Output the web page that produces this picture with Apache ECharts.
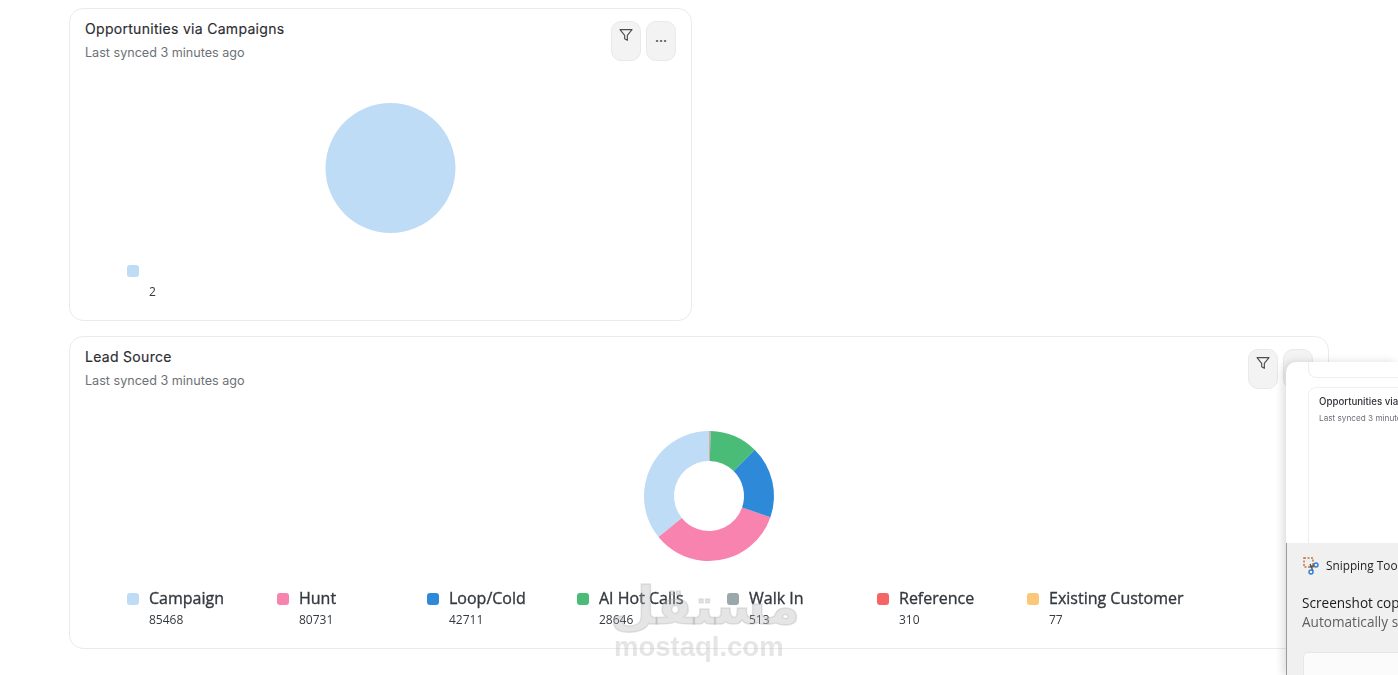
<!DOCTYPE html>
<html><head><meta charset="utf-8">
<script src="https://cdn.jsdelivr.net/npm/echarts@6/dist/echarts.min.js"></script>
<style>
html,body{margin:0;padding:0;background:#fff;width:1398px;height:675px;overflow:hidden;font-family:Inter,sans-serif}
.abs{position:absolute;white-space:nowrap}
.card{position:absolute;box-sizing:border-box;border:1px solid #ebebeb;border-radius:14px;background:#fff}
.title{font:400 14px/18px Inter,sans-serif;color:#2a2d32;letter-spacing:.3px;-webkit-text-stroke:.15px #2a2d32}
.sub{font:400 12.6px/16px Inter,sans-serif;color:#6d7278}
.btn{position:absolute;box-sizing:border-box;width:30px;height:40px;background:#f3f3f3;border:1px solid #e9e9e9;border-radius:10px;display:flex;justify-content:center}
#chart{position:absolute;left:0;top:0;width:1398px;height:675px}
.swatch{position:absolute;width:12px;height:12px;border-radius:3px}
.ln{font:400 16px/20px "Open Sans",sans-serif;color:#343a40;-webkit-text-stroke:.35px #343a40}
.lv{font:400 12px/16px "Open Sans",sans-serif;color:#343a40}
#toast{position:absolute;left:1286px;top:362px;width:112px;height:313px;overflow:hidden;background:#fff;border-radius:10px 0 0 0;box-shadow:-3px 0 8px rgba(0,0,0,.14)}
#toastGray{position:absolute;left:0;top:181px;width:112px;height:132px;background:#f0f0f0;border-left:1px solid #9a9a9a;box-sizing:border-box}
</style></head><body>
<div class="card" style="left:69px;top:8px;width:623px;height:313px"></div>
<div class="card" style="left:69px;top:336px;width:1260px;height:313px"></div>
<div class="abs title" style="left:85px;top:20px">Opportunities via Campaigns</div>
<div class="abs sub" style="left:85px;top:45px">Last synced 3 minutes ago</div>
<div class="abs title" style="left:85px;top:348px">Lead Source</div>
<div class="abs sub" style="left:85px;top:373px">Last synced 3 minutes ago</div>
<div id="btns"></div>
<div id="chart"></div>
<div id="legends"></div>
<div class="abs" style="left:610px;top:566px;width:174px;text-align:center;font:700 52px/80px 'DejaVu Sans',sans-serif;color:rgba(170,170,170,.3);-webkit-text-stroke:1.5px rgba(170,170,170,.3)">مستقل</div>
<div class="abs" style="left:614px;top:631px;font:700 27.5px/32px 'Liberation Sans',sans-serif;color:rgba(170,170,170,.3)">mostaql.com</div>
<div id="toast">
  <div style="position:absolute;left:22px;top:-1px;width:90px;height:16px;border-left:1px solid #eee;border-bottom:1px solid #eee;border-radius:0 0 0 8px"></div>
  <div style="position:absolute;left:22px;top:25px;width:100px;height:170px;border:1px solid #eee;border-radius:8px"></div>
  <div class="abs" style="left:33px;top:34px;font:500 9.7px/12px Inter,sans-serif;color:#2f3237">Opportunities via Campaigns</div>
  <div class="abs" style="left:33px;top:51px;font:400 8.2px/10px Inter,sans-serif;color:#6d7278">Last synced 3 minutes ago</div>
  <div id="toastGray">
    <svg style="position:absolute;left:16px;top:14px" width="17" height="18" viewBox="0 0 17 18"><rect x="1" y="1" width="9" height="9" fill="none" stroke="#c8703a" stroke-width="1.5" stroke-dasharray="2 1.5"/><path d="M7 7l3 7" stroke="#555" stroke-width="1.4"/><circle cx="13" cy="8" r="2" fill="none" stroke="#2d7fd3" stroke-width="1.4"/><circle cx="8" cy="15" r="2" fill="none" stroke="#2d7fd3" stroke-width="1.4"/><path d="M11 8.5l-4 1.5" stroke="#555" stroke-width="1.4"/></svg>
    <div class="abs" style="left:39px;top:14px;font:400 11.8px/16px 'Open Sans',sans-serif;color:#222">Snipping Tool</div>
    <div class="abs" style="left:15px;top:50px;font:400 13.6px/19px 'Open Sans',sans-serif;color:#1b1b1b">Screenshot copied to clipboard</div>
    <div class="abs" style="left:15px;top:69px;font:400 13.6px/19px 'Open Sans',sans-serif;color:#5f5f5f">Automatically saved to screenshots folder</div>
    <div style="position:absolute;left:16px;top:109px;width:120px;height:40px;background:#fbfbfb;border:1px solid #e6e6e6;border-radius:5px"></div>
  </div>
</div>
<script>
var campaignNames = [''];
var campaignValues = [2];
var campaignColors = ['#bfdcf7'];
var leadNames = ['Campaign','Hunt','Loop/Cold','AI Hot Calls','Walk In','Reference','Existing Customer'];
var leadValues = [85468,80731,42711,28646,513,310,77];
var leadColors = ['#bfdcf7','#f883ae','#2f89d9','#4abc77','#9ba8ab','#f56565','#fbc778'];

function toData(names, values){
  return names.map(function(n,i){return {name:n||'Opportunities',value:values[i]};});
}
var chart = echarts.init(document.getElementById('chart'),null,{renderer:'canvas'});
chart.setOption({
  animation:false,
  series:[
    {type:'pie',center:[390.5,168],radius:[0,65],clockwise:false,startAngle:90,silent:true,
     label:{show:false},labelLine:{show:false},color:campaignColors,data:toData(campaignNames,campaignValues)},
    {type:'pie',center:[709,496],radius:[35,65],clockwise:false,startAngle:90,silent:true,
     label:{show:false},labelLine:{show:false},color:leadColors,data:toData(leadNames,leadValues)}
  ]
});

function legend(names,values,colors,swatchTop,nameTop,valTop){
  var host=document.getElementById('legends');
  names.forEach(function(n,i){
    var x=127+150*i;
    var s=document.createElement('div');s.className='swatch';
    s.style.cssText='left:'+x+'px;top:'+swatchTop+'px;background:'+colors[i];host.appendChild(s);
    if(n){var a=document.createElement('div');a.className='abs ln';a.textContent=n;
      a.style.left=(x+22)+'px';a.style.top=nameTop+'px';host.appendChild(a);}
    var b=document.createElement('div');b.className='abs lv';b.textContent=values[i];
    b.style.left=(x+22)+'px';b.style.top=valTop+'px';host.appendChild(b);
  });
}
legend(campaignNames,campaignValues,campaignColors,265,260,284);
legend(leadNames,leadValues,leadColors,593,588,612);

var funnel='<svg style="margin-top:5px" width="16" height="16" viewBox="0 0 24 24" fill="none" stroke="#4a4d52" stroke-width="1.7" stroke-linejoin="round"><path d="M3 4h18l-7 8.5V20l-4-2.5v-5z"/></svg>';
var dots='<span style="font:700 12px/40px Inter,sans-serif;color:#55585c;margin-top:-4px">...</span>';
[[611,21,funnel],[646,21,dots],[1248,349,funnel],[1283,349,dots]].forEach(function(b){
  var d=document.createElement('div');d.className='btn';d.style.left=b[0]+'px';d.style.top=b[1]+'px';d.innerHTML=b[2];
  document.getElementById('btns').appendChild(d);
});
</script>
</body></html>
